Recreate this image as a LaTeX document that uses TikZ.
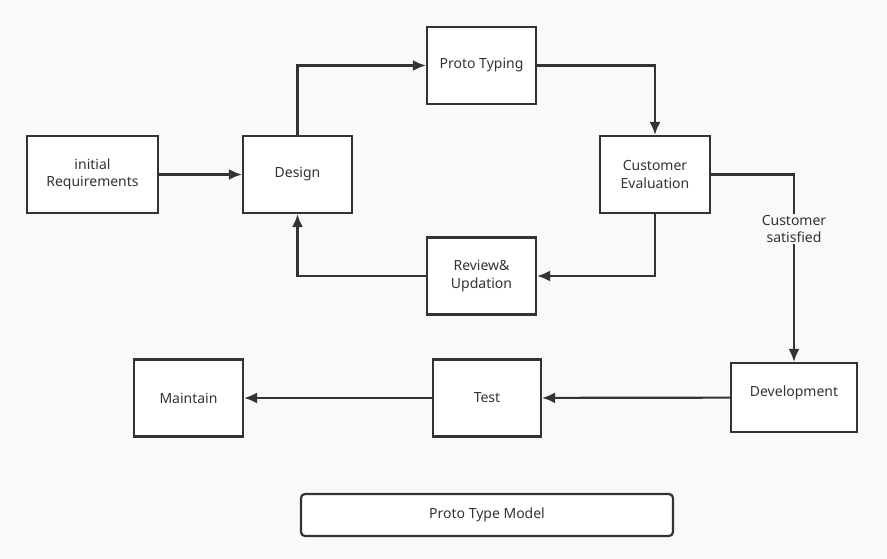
\documentclass[tikz,border=0pt]{standalone}
\usepackage{fontspec}
\setmainfont{Noto Sans}
\usepackage{xcolor}
\usetikzlibrary{arrows.meta,calc,positioning}
\definecolor{linegray}{HTML}{333333}
\definecolor{bggray}{HTML}{F9F9F9}

\begin{document}
\begin{tikzpicture}[x=1pt,y=-1pt]
\tikzset{box/.style = {shape=rectangle,draw=linegray,fill=white,line width=2.2pt,minimum width=109pt,minimum height=77pt,align=center,font=\fontsize{14}{17.5}\selectfont,text=linegray}}
\tikzset{edge/.style = {-{Latex[length=13pt,width=11pt]},draw=linegray,line width=2.2pt}}
\fill[bggray] (0,0) rectangle (887,559);
\useasboundingbox (0,0) rectangle (887,559);
\node[box,minimum width=131pt] (req) at (92.5,174.5) {initial\\Requirements};
\node[box] (des) at (297.5,174.5) {Design};
\node[box] (pro) at (481.5,65.5) {Proto Typing};
\node[box,minimum width=110pt] (eval) at (655,174.5) {Customer\\Evaluation};
\node[box] (rev) at (481.5,276) {Review\&\\Updation};
\node[box,minimum width=126pt,minimum height=69pt] (dev) at (794,397.5) {\raisebox{5pt}[\height][\depth]{Development}};
\node[box,minimum width=108pt] (test) at (487,398) {Test};
\node[box] (main) at (188.5,398) {Maintain};
\node[box,rounded corners=4pt,minimum width=372pt,minimum height=42pt] (title) at (487,515) {Proto Type Model};
\draw[edge] (req) to (des);
\draw[edge] (des.north) |- (pro.west);
\draw[edge] (pro.east) -| (eval.north);
\draw[edge] (eval.south) |- (rev.east);
\draw[edge] (rev.west) -| (des.south);
\draw[edge] (eval.east) -| (dev.north)
  node[pos=0.645,fill=bggray,inner sep=1pt,align=center,text=linegray,font=\fontsize{14}{17.5}\selectfont] (sat) {Customer\\satisfied};
\draw[edge] (dev) to (test);
\draw[edge] (test) to (main);
\end{tikzpicture}
\end{document}
